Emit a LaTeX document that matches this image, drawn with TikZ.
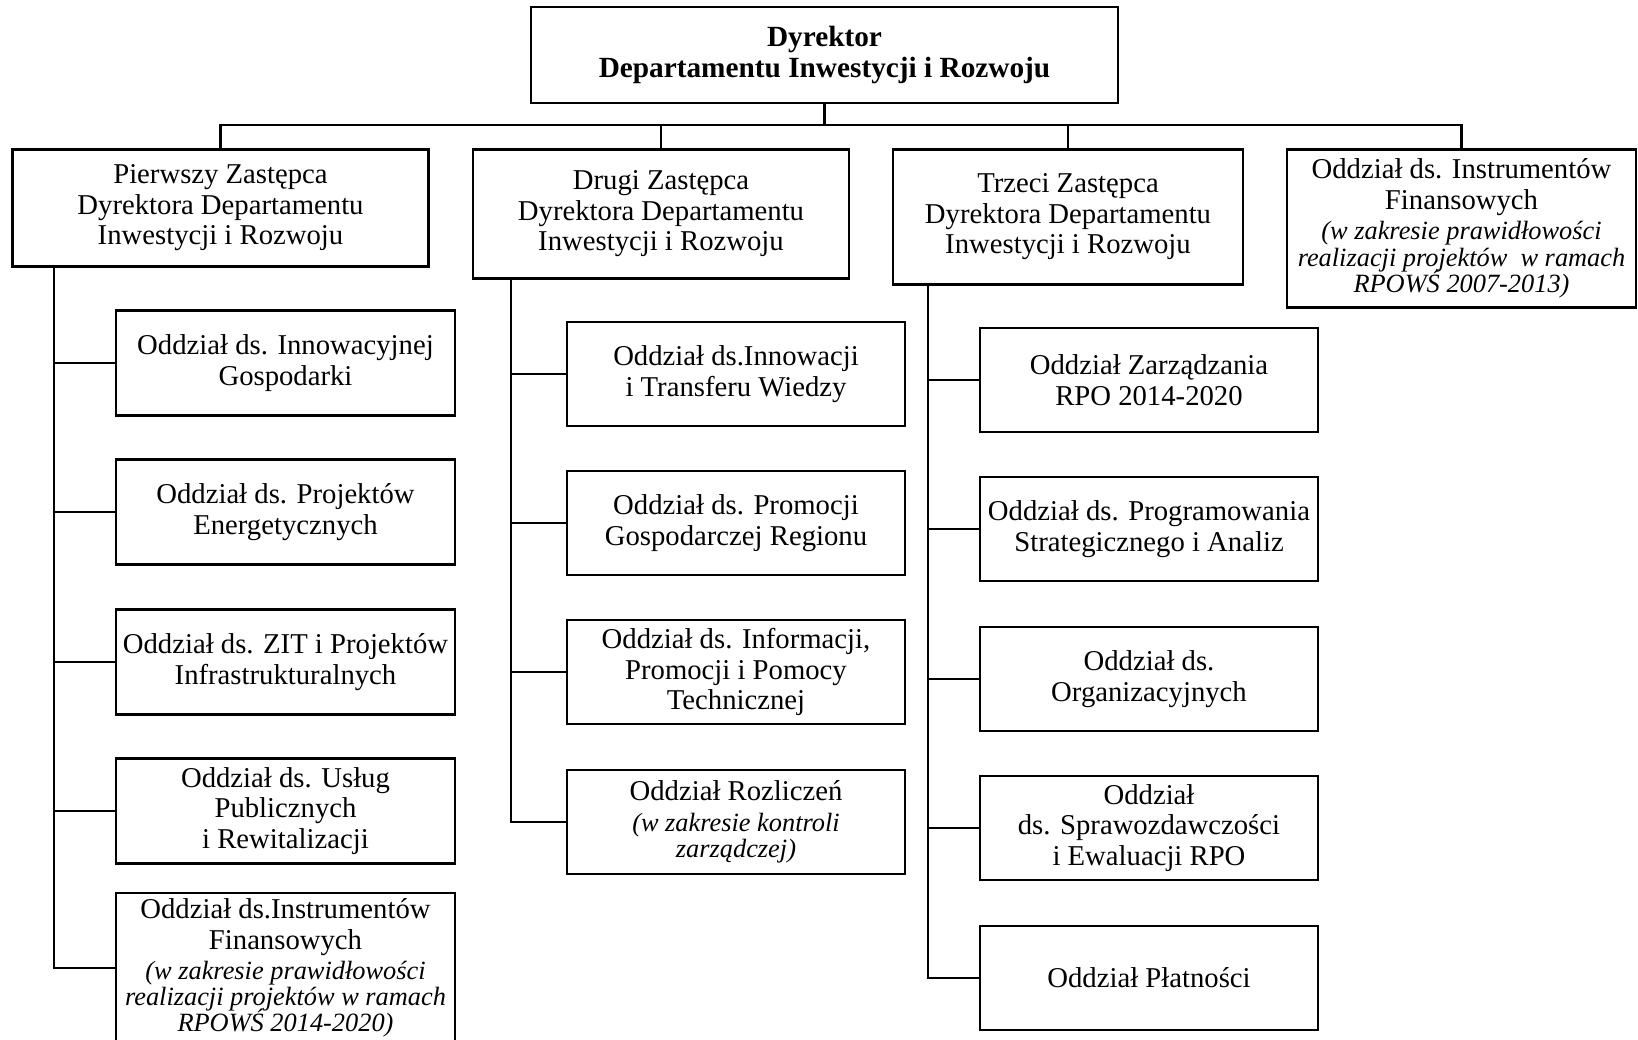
\documentclass[tikz,border=0pt]{standalone}
\usepackage{fontspec}
\setmainfont{Liberation Serif}
\usepackage{tikz}

\tikzset{
  unit/.style={draw, line width=2.4pt, align=center, inner sep=0pt,
    font=\fontsize{24.5}{26}\selectfont},
  lsec/.style={unit, minimum width=10.17cm, minimum height=3.15cm},
  sec/.style={unit, minimum width=10.14cm, minimum height=3.12cm},
  link/.style={line width=2.4pt},
}
\newcommand{\note}[1]{{\fontsize{22.5}{22.5}\selectfont\itshape #1}}

\begin{document}
\begin{tikzpicture}[x=0.03cm, y=-0.03cm]
    \useasboundingbox (0,0) rectangle (1638,1040);

    % Draw director
    \node[unit, font=\fontsize{25}{26.7}\selectfont\bfseries,
      minimum width=17.61cm, minimum height=2.88cm] (dyr) at (824.5,55)
      {Dyrektor\\Departamentu Inwestycji i Rozwoju};

    % Draw deputies
    \node[unit, anchor=north, minimum width=12.48cm, minimum height=3.51cm] (zast1) at (220.5,148)
      {Pierwszy Zastępca\\Dyrektora Departamentu\\Inwestycji i Rozwoju};
    \node[unit, anchor=north, minimum width=11.28cm, minimum height=3.87cm] (zast2) at (661,148)
      {Drugi Zastępca\\Dyrektora Departamentu\\Inwestycji i Rozwoju};
    \node[unit, anchor=north, minimum width=10.5cm, minimum height=4.05cm] (zast3) at (1068,148)
      {Trzeci Zastępca\\Dyrektora Departamentu\\Inwestycji i Rozwoju};
    \node[unit, anchor=north, minimum width=10.47cm, minimum height=4.74cm] (ifin) at (1461.5,148)
      {Oddział ds. Instrumentów\\Finansowych\\\note{(w zakresie prawidłowości}\\[-3.7pt]
       \note{realizacji projektów\ \ w ramach}\\[-3.7pt]\note{RPOWŚ 2007-2013)}};

    % Draw sections of the first deputy
    \node[lsec] (l1) at (285.5,363) {Oddział ds. Innowacyjnej\\Gospodarki};
    \node[lsec] (l2) at (285.5,512) {Oddział ds. Projektów\\Energetycznych};
    \node[lsec] (l3) at (285.5,662) {Oddział ds. ZIT i Projektów\\Infrastrukturalnych};
    \node[lsec] (l4) at (285.5,811) {Oddział ds. Usług\\Publicznych\\i Rewitalizacji};
    \node[lsec, minimum height=4.5cm] (l5) at (285.5,968)
      {Oddział ds.Instrumentów\\Finansowych\\\note{(w zakresie prawidłowości}\\[-3.7pt]
       \note{realizacji projektów w ramach}\\[-3.7pt]\note{RPOWŚ 2014-2020)}};

    % Draw sections of the second deputy
    \node[sec] (m1) at (736,374) {Oddział ds.Innowacji\\i Transferu Wiedzy};
    \node[sec] (m2) at (736,523) {Oddział ds. Promocji\\Gospodarczej Regionu};
    \node[sec] (m3) at (736,672) {Oddział ds. Informacji,\\Promocji i Pomocy\\Technicznej};
    \node[sec] (m4) at (736,822)
      {Oddział Rozliczeń\\\note{(w zakresie kontroli}\\[-3.7pt]\note{zarządczej)}};

    % Draw sections of the third deputy
    \node[sec] (r1) at (1149,380) {Oddział Zarządzania\\RPO 2014-2020};
    \node[sec] (r2) at (1149,529) {Oddział ds. Programowania\\Strategicznego i Analiz};
    \node[sec] (r3) at (1149,679) {Oddział ds.\\Organizacyjnych};
    \node[sec] (r4) at (1149,828) {Oddział\\ds. Sprawozdawczości\\i Ewaluacji RPO};
    \node[sec] (r5) at (1149,978) {Oddział Płatności};

    % Draw top connectors
    \coordinate (bus) at (0,125);
    \draw[link] (dyr.south) -- (dyr.south |- bus);
    \draw[link] (zast1.north) -- (zast1.north |- bus) -- (ifin.north |- bus) -- (ifin.north);
    \foreach \n in {zast2, zast3}
      \draw[link] (\n.north) -- (\n.north |- bus);

    % Draw column connectors
    \coordinate (t1) at (54,0);
    \coordinate (t2) at (511,0);
    \coordinate (t3) at (928,0);
    \draw[link] (zast1.south -| t1) -- (t1 |- l5.west) -- (l5.west);
    \draw[link] (zast2.south -| t2) -- (t2 |- m4.west) -- (m4.west);
    \draw[link] (zast3.south -| t3) -- (t3 |- r5.west) -- (r5.west);
    \foreach \n in {l1, l2, l3, l4}
      \draw[link] (t1 |- \n.west) -- (\n.west);
    \foreach \n in {m1, m2, m3}
      \draw[link] (t2 |- \n.west) -- (\n.west);
    \foreach \n in {r1, r2, r3, r4}
      \draw[link] (t3 |- \n.west) -- (\n.west);
\end{tikzpicture}
\end{document}
